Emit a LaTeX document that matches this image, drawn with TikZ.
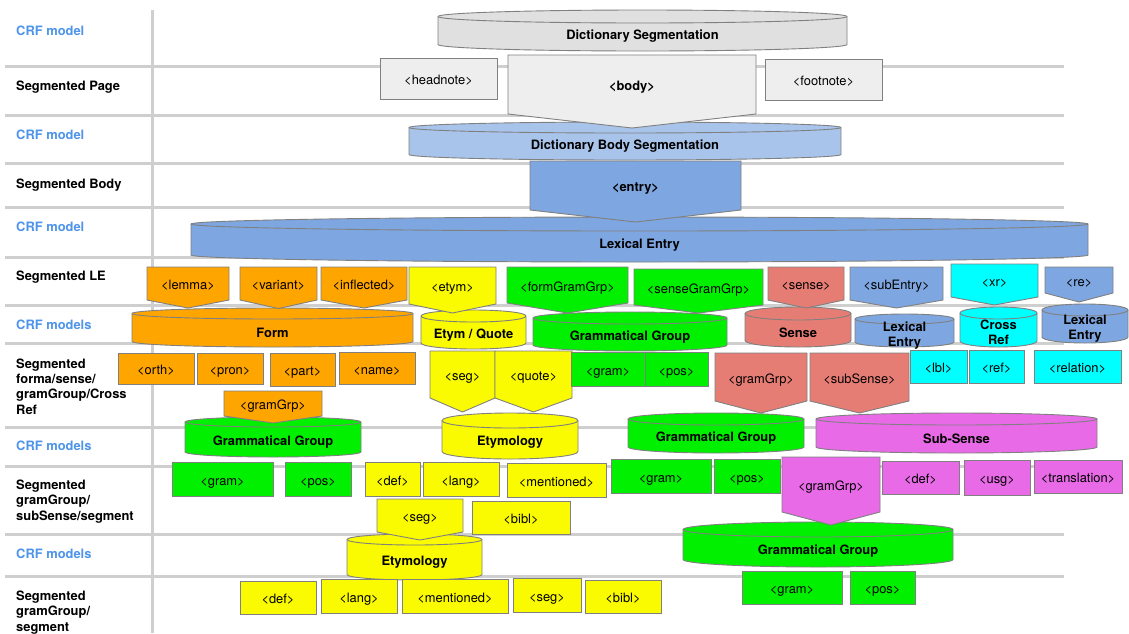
\documentclass[tikz,border=0pt]{standalone}
\usepackage{fontspec}
\setmainfont{TeX Gyre Heros}
\definecolor{cGray}{HTML}{E0E0E0}
\definecolor{cLight}{HTML}{EEEEEE}
\definecolor{cLightBlue}{HTML}{A9C4EB}
\definecolor{cBlue}{HTML}{7EA6E0}
\definecolor{cOrange}{HTML}{FFA500}
\definecolor{cYellow}{HTML}{FAFA00}
\definecolor{cGreen}{HTML}{00F000}
\definecolor{cSalmon}{HTML}{E67D74}
\definecolor{cCyan}{HTML}{00FFFF}
\definecolor{cViolet}{HTML}{E86AE6}
\definecolor{cBorder}{HTML}{808080}
\definecolor{cGrid}{HTML}{CFCFCF}
\definecolor{cCRF}{HTML}{4D94EA}
\newcommand\dgfont{\fontsize{12.9}{15.3}\selectfont}
\tikzset{
  shapeline/.style={draw=cBorder, line width=0.9pt, line join=miter},
  fixh/.style={text height=9.5pt, text depth=1.5pt},
  tagfix/.style={text height=12.5pt, text depth=0pt},
  tagtext/.style={inner sep=0pt, tagfix, font=\dgfont},
  cyltext/.style={inner sep=0pt, align=center, yshift=-2.4pt, font=\dgfont\bfseries},
  gridline/.style={draw=cGrid, line width=3pt},
  crf/.style={anchor=west, inner sep=0pt, fixh, text=cCRF, font=\dgfont\bfseries},
  seglbl/.style={anchor=west, inner sep=0pt, text=black, font=\dgfont\bfseries}
}
% cylinder: name, x1, ytop, x2, ybottom, ry, fill, text
\newcommand\cylshape[8]{%
  \pgfmathsetmacro\cylcx{(#2+#4)/2}%
  \pgfmathsetmacro\cylrx{(#4-#2)/2}%
  \pgfmathsetmacro\cylty{#3+#6}%
  \pgfmathsetmacro\cylby{#5-#6}%
  \pgfmathsetmacro\cylmy{(\cylty+#5)/2}%
  \filldraw[shapeline, fill=#7] (#2,\cylty) -- (#2,\cylby)
    arc[start angle=180, end angle=0, x radius=\cylrx, y radius=#6]
    -- (#4,\cylty)
    arc[start angle=0, end angle=-180, x radius=\cylrx, y radius=#6] -- cycle;
  \draw[shapeline] (#2,\cylty) arc[start angle=180, end angle=0, x radius=\cylrx, y radius=#6];
  \node[cyltext] (#1) at (\cylcx,\cylmy) {#8};
}
% pentagon: name, x1, ytop, x2, yside, ypoint, fill, text
\newcommand\pentshape[8]{%
  \pgfmathsetmacro\pentcx{(#2+#4)/2}%
  \pgfmathsetmacro\pentmy{(#3+#5)/2}%
  \filldraw[shapeline, fill=#7] (#2,#3) -- (#4,#3) -- (#4,#5) -- (\pentcx,#6) -- (#2,#5) -- cycle;
  \node[tagtext] (#1) at (\pentcx,\pentmy) {#8};
}
% box: name, x1, y1, x2, y2, fill, text
\newcommand\tagbox[7]{%
  \pgfmathsetmacro\boxcx{(#2+#4)/2}%
  \pgfmathsetmacro\boxmy{(#3+#5)/2}%
  \filldraw[shapeline, fill=#6] (#2,#3) rectangle (#4,#5);
  \node[tagtext] (#1) at (\boxcx,\boxmy) {#7};
}
\begin{document}
\begin{tikzpicture}[x=1pt, y=-1pt]
\useasboundingbox[fill=white] (0,0) rectangle (1129,633);
% grid
\foreach \gy in {66.7,115,163.3,207.3,257,305.5,343.5,427.7,466.7,534.3,576.7}
  \draw[gridline] (5,\gy) -- (1064,\gy);
\draw[gridline] (152,10) -- (152,633);
% left labels
\node[crf] (l1) at (16,31.5) {CRF model};
\node[seglbl, fixh] (l2) at (16,86.5) {Segmented Page};
\node[crf] (l3) at (16,135.5) {CRF model};
\node[seglbl, fixh] (l4) at (16,184) {Segmented Body};
\node[crf] (l5) at (16,227.5) {CRF model};
\node[seglbl, fixh] (l6) at (16,276.5) {Segmented LE};
\node[crf] (l7) at (16,325.5) {CRF models};
\node[seglbl, align=left] (l8) at (16,386.5) {Segmented\\forma/sense/\\gramGroup/Cross\\Ref};
\node[crf] (l9) at (16,446.5) {CRF models};
\node[seglbl, align=left] (l10) at (16,501.5) {Segmented\\gramGroup/\\subSense/segment};
\node[crf] (l11) at (16,554.5) {CRF models};
\node[seglbl, align=left] (l12) at (16,612.5) {Segmented\\gramGroup/\\segment};
% cylinders
\cylshape{ds}{438}{10}{847}{51}{6.5}{cGray}{Dictionary Segmentation}
\cylshape{dbs}{409}{122}{841}{160}{5.5}{cLightBlue}{Dictionary Body Segmentation}
\cylshape{le}{191}{217}{1088}{262}{7}{cBlue}{Lexical Entry}
\cylshape{form}{132}{308}{413}{347}{5.5}{cOrange}{Form}
\cylshape{etq}{421}{310}{526}{349}{6}{cYellow}{Etym / Quote}
\cylshape{gg1}{533}{312}{727}{351}{6}{cGreen}{Grammatical Group}
\cylshape{sensecyl}{745}{307}{851}{347}{6.5}{cSalmon}{Sense}
\cylshape{lesub}{855}{314}{954}{347}{5}{cBlue}{Lexical\\Entry}
\cylshape{crossref}{960}{307}{1037}{347}{6}{cCyan}{Cross\\Ref}
\cylshape{lere}{1042}{304}{1128}{343}{6}{cBlue}{Lexical\\Entry}
\cylshape{gg2}{185}{417}{361}{457}{5}{cGreen}{Grammatical Group}
\cylshape{etymo1}{442}{413}{578}{459}{7.5}{cYellow}{Etymology}
\cylshape{gg3}{628}{413}{804}{453}{6}{cGreen}{Grammatical Group}
\cylshape{subsensecyl}{816}{413}{1097}{453}{6}{cViolet}{Sub-Sense}
\cylshape{etymo2}{347}{534}{482}{580}{5.5}{cYellow}{Etymology}
\cylshape{gg4}{683}{522}{953}{567}{7.5}{cGreen}{Grammatical Group}
% row 2
\tagbox{headnote}{380}{58}{497}{99}{cLight}{<headnote>}
\pentshape{body}{508}{55}{756}{114}{128}{cLight}{\bfseries <body>}
\tagbox{footnote}{765}{59}{882}{100}{cLight}{<footnote>}
% row 4
\pentshape{entry}{530}{161}{741}{210}{222}{cBlue}{\bfseries <entry>}
% row 6
\pentshape{lemma}{147}{267}{229}{300}{308}{cOrange}{<lemma>}
\pentshape{variant}{240}{267}{317}{300}{308.5}{cOrange}{<variant>}
\pentshape{inflected}{321}{267}{407}{300}{308}{cOrange}{<inflected>}
\pentshape{etym}{409}{267}{496}{304}{313}{cYellow}{<etym>}
\pentshape{fgg}{507}{267}{628}{303}{313}{cGreen}{<formGramGrp>}
\pentshape{sgg}{634}{269}{763}{305}{313}{cGreen}{<senseGramGrp>}
\pentshape{sense}{768}{267}{844}{300}{308}{cSalmon}{<sense>}
\pentshape{subentry}{850}{267}{943}{300}{308}{cBlue}{<subEntry>}
\pentshape{xr}{951}{264}{1038}{297}{305}{cCyan}{<xr>}
\pentshape{re}{1045}{267}{1113}{293}{302}{cBlue}{<re>}
% row 8
\tagbox{orth}{118}{353}{194}{384}{cOrange}{<orth>}
\tagbox{pron}{197}{353}{263}{384}{cOrange}{<pron>}
\tagbox{part}{270}{353}{335}{386}{cOrange}{<part>}
\tagbox{name}{339}{352}{415}{384}{cOrange}{<name>}
\pentshape{gramgrpO}{224}{391}{322}{416}{423}{cOrange}{<gramGrp>}
\pentshape{seg1}{430}{351}{495}{398}{412}{cYellow}{<seg>}
\pentshape{quote}{495}{351}{572}{398}{412}{cYellow}{<quote>}
\tagbox{gram1}{571}{352}{645}{386}{cGreen}{<gram>}
\tagbox{pos1}{645}{352}{708}{386}{cGreen}{<pos>}
\pentshape{gramgrpS}{715}{353}{807}{401}{413}{cSalmon}{<gramGrp>}
\pentshape{subsense}{810}{353}{909}{401}{413}{cSalmon}{<subSense>}
\tagbox{lblx}{910}{350}{967}{383}{cCyan}{<lbl>}
\tagbox{ref}{969}{350}{1024}{383}{cCyan}{<ref>}
\tagbox{relation}{1034}{350}{1121}{383}{cCyan}{<relation>}
% row 10
\tagbox{gram2}{172}{462}{273}{496}{cGreen}{<gram>}
\tagbox{pos2}{285}{462}{351}{496}{cGreen}{<pos>}
\tagbox{def1}{365}{462}{420}{496}{cYellow}{<def>}
\tagbox{lang1}{423}{462}{499}{496}{cYellow}{<lang>}
\tagbox{mentioned1}{507}{463}{606}{497}{cYellow}{<mentioned>}
\pentshape{seg2}{377}{499}{463}{532}{540}{cYellow}{<seg>}
\tagbox{bibl1}{472}{501}{570}{534}{cYellow}{<bibl>}
\tagbox{gram3}{611}{459}{711}{493}{cGreen}{<gram>}
\tagbox{pos3}{714}{459}{780}{493}{cGreen}{<pos>}
\pentshape{gramgrpV}{782}{457}{880}{512}{525}{cViolet}{<gramGrp>}
\tagbox{def2}{882}{461}{959}{494}{cViolet}{<def>}
\tagbox{usg}{964}{460}{1030}{495}{cViolet}{<usg>}
\tagbox{translation}{1034}{460}{1122}{493}{cViolet}{<translation>}
% row 12
\tagbox{def3}{240}{581}{316}{614}{cYellow}{<def>}
\tagbox{lang2}{321}{579}{397}{613}{cYellow}{<lang>}
\tagbox{mentioned2}{402}{579}{508}{613}{cYellow}{<mentioned>}
\tagbox{seg3}{513}{578}{581}{612}{cYellow}{<seg>}
\tagbox{bibl2}{585}{580}{661}{613}{cYellow}{<bibl>}
\tagbox{gram4}{742}{571}{842}{604}{cGreen}{<gram>}
\tagbox{pos4}{850}{571}{915}{604}{cGreen}{<pos>}
\end{tikzpicture}
\end{document}
